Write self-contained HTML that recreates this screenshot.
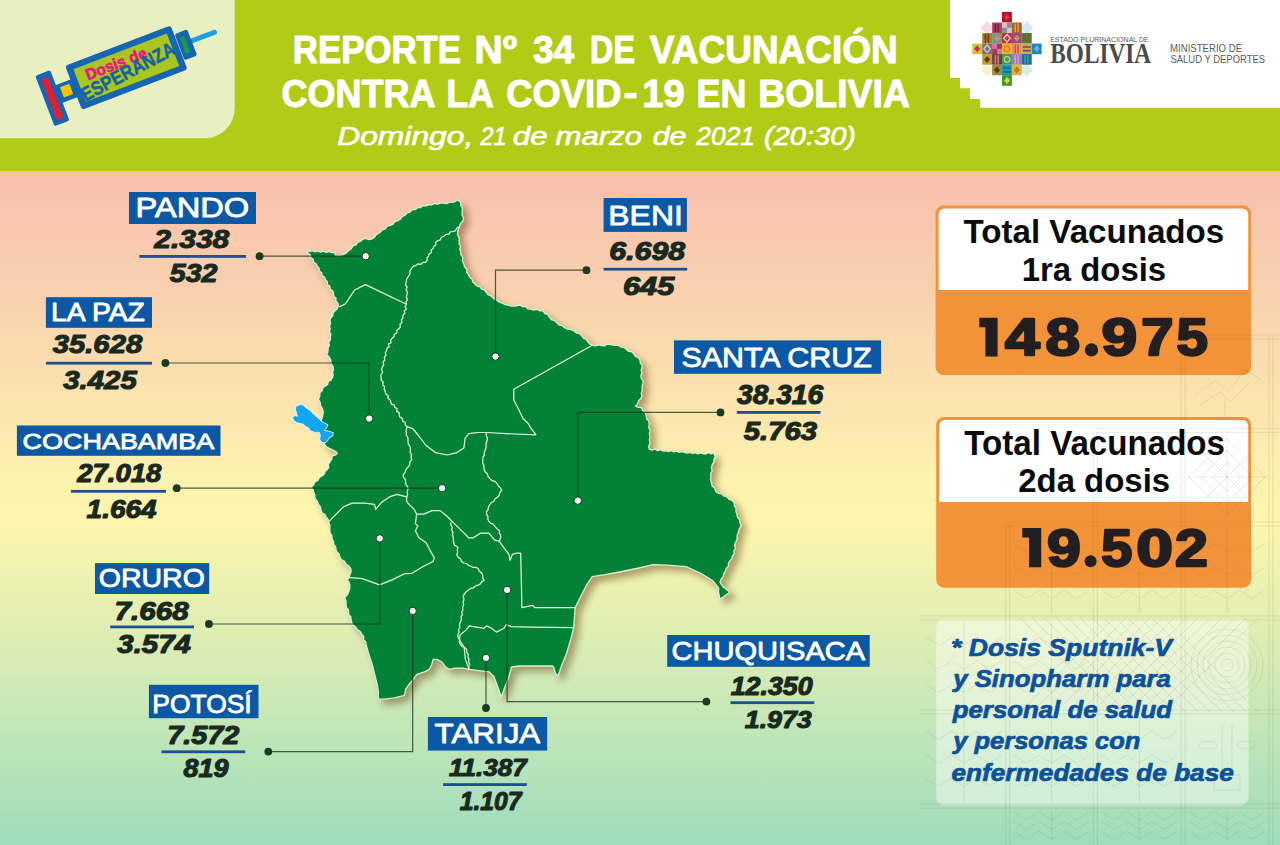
<!DOCTYPE html>
<html><head><meta charset="utf-8"><title>Reporte 34 Vacunacion Bolivia</title>
<style>html,body{margin:0;padding:0;width:1280px;height:845px;overflow:hidden}
body{background:linear-gradient(180deg,#f8bfae 0px,#f8bfae 171px,#f9d2af 299px,#fbe7ae 420px,#fdf1ae 474px,#fdf5ad 521px,#dcedb3 643px,#bde5b8 744px,#9edcbb 845px)}
svg{display:block}</style></head><body>
<svg width="1280" height="845" viewBox="0 0 1280 845">


<rect x="0" y="0" width="1280" height="171" fill="#b2cb17"/>
<path d="M0,0 H234.7 V108.3 A30,30 0 0 1 204.7,138.3 H0 Z" fill="#e8efc1"/>
<path d="M950,0 H1280 V107.8 H980 V99 H970 V88.2 H960 V78 H950 Z" fill="#ffffff"/>
<polygon points="987.1,20.9 993.9,27.7 987.1,34.5 980.4,27.7" fill="#f7d9e2"/>
<polygon points="1026.8,20.9 1033.5,27.7 1026.8,34.5 1020.0,27.7" fill="#d6eaf6"/>
<polygon points="987.1,63.1 993.9,69.9 987.1,76.7 980.4,69.9" fill="#f8f0d2"/>
<polygon points="1026.8,63.1 1033.5,69.9 1026.8,76.7 1020.0,69.9" fill="#d8eedf"/>
<rect x="1002.0" y="11.9" width="9.9" height="10.6" fill="#b3122e"/>
<polygon points="1007.0,13.7 1010.0,17.2 1007.0,20.7 1004.0,17.2" fill="#e0303a"/>
<rect x="992.1" y="22.5" width="9.9" height="10.6" fill="#b8406e"/>
<rect x="994.6" y="23.5" width="1.6" height="8.6" fill="#6a2030"/>
<rect x="997.5" y="23.5" width="1.6" height="8.6" fill="#6a2030"/>
<rect x="1002.0" y="22.5" width="9.9" height="10.6" fill="#9c8c92"/>
<rect x="1002.0" y="22.5" width="5.0" height="5.3" fill="#f0f0f0" fill-opacity="0.6"/>
<rect x="1007.0" y="27.7" width="5.0" height="5.3" fill="#f0f0f0" fill-opacity="0.6"/>
<rect x="1011.9" y="22.5" width="9.9" height="10.6" fill="#a2622c"/>
<rect x="1014.4" y="23.5" width="1.6" height="8.6" fill="#e09a40"/>
<rect x="1017.3" y="23.5" width="1.6" height="8.6" fill="#e09a40"/>
<rect x="982.2" y="33.0" width="9.9" height="10.6" fill="#b67a2a"/>
<rect x="984.7" y="34.0" width="1.6" height="8.6" fill="#5a3a20"/>
<rect x="987.6" y="34.0" width="1.6" height="8.6" fill="#5a3a20"/>
<rect x="992.1" y="33.0" width="9.9" height="10.6" fill="#6aa070"/>
<polygon points="997.0,34.8 1000.0,38.3 997.0,41.8 994.0,38.3" fill="#e080a0"/>
<rect x="1002.0" y="33.0" width="9.9" height="10.6" fill="#c0303a"/>
<polygon points="1007.0,34.5 1010.2,38.3 1007.0,42.1 1003.7,38.3" fill="none" stroke="#f4e0e0" stroke-width="1.2"/>
<rect x="1011.9" y="33.0" width="9.9" height="10.6" fill="#9a4a86"/>
<polygon points="1016.9,34.8 1019.9,38.3 1016.9,41.8 1013.9,38.3" fill="#e08a40"/>
<rect x="1021.8" y="33.0" width="9.9" height="10.6" fill="#4f7a38"/>
<rect x="1022.8" y="35.6" width="7.9" height="1.6" fill="#8a5a30"/>
<rect x="1022.8" y="39.3" width="7.9" height="1.6" fill="#8a5a30"/>
<rect x="972.3" y="43.6" width="9.9" height="10.6" fill="#d6c040"/>
<polygon points="977.2,45.3 980.2,48.8 977.2,52.3 974.2,48.8" fill="#d03040"/>
<rect x="982.2" y="43.6" width="9.9" height="10.6" fill="#7a7070"/>
<polygon points="987.1,45.0 990.4,48.8 987.1,52.6 983.9,48.8" fill="none" stroke="#d8d0c8" stroke-width="1.2"/>
<rect x="992.1" y="43.6" width="9.9" height="10.6" fill="#a43462"/>
<rect x="992.1" y="43.6" width="5.0" height="5.3" fill="#f0a0c0" fill-opacity="0.6"/>
<rect x="997.0" y="48.8" width="5.0" height="5.3" fill="#f0a0c0" fill-opacity="0.6"/>
<rect x="1002.0" y="43.6" width="9.9" height="10.6" fill="#f0b030"/>
<circle cx="1007.0" cy="48.8" r="2.8" fill="none" stroke="#e07a20" stroke-width="1.3"/>
<rect x="1011.9" y="43.6" width="9.9" height="10.6" fill="#e8906a"/>
<rect x="1014.4" y="44.6" width="1.6" height="8.6" fill="#c06040"/>
<rect x="1017.3" y="44.6" width="1.6" height="8.6" fill="#c06040"/>
<rect x="1021.8" y="43.6" width="9.9" height="10.6" fill="#c8b040"/>
<rect x="1022.8" y="46.2" width="7.9" height="1.6" fill="#7a4080"/>
<rect x="1022.8" y="49.9" width="7.9" height="1.6" fill="#7a4080"/>
<rect x="1031.7" y="43.6" width="9.9" height="10.6" fill="#2282c8"/>
<polygon points="1036.7,45.3 1039.7,48.8 1036.7,52.3 1033.7,48.8" fill="#60b0f0"/>
<rect x="982.2" y="54.1" width="9.9" height="10.6" fill="#c29a30"/>
<polygon points="987.1,55.9 990.1,59.4 987.1,62.9 984.1,59.4" fill="#5a3a20"/>
<rect x="992.1" y="54.1" width="9.9" height="10.6" fill="#6a4030"/>
<rect x="994.6" y="55.1" width="1.6" height="8.6" fill="#d08090"/>
<rect x="997.5" y="55.1" width="1.6" height="8.6" fill="#d08090"/>
<rect x="1002.0" y="54.1" width="9.9" height="10.6" fill="#2a9a7a"/>
<circle cx="1007.0" cy="59.4" r="2.8" fill="none" stroke="#e0d040" stroke-width="1.3"/>
<rect x="1011.9" y="54.1" width="9.9" height="10.6" fill="#9a7ab0"/>
<rect x="1014.4" y="55.1" width="1.6" height="8.6" fill="#d0a0d0"/>
<rect x="1017.3" y="55.1" width="1.6" height="8.6" fill="#d0a0d0"/>
<rect x="1021.8" y="54.1" width="9.9" height="10.6" fill="#1a6a9a"/>
<rect x="1024.3" y="55.1" width="1.6" height="8.6" fill="#30a0b0"/>
<rect x="1027.2" y="55.1" width="1.6" height="8.6" fill="#30a0b0"/>
<rect x="992.1" y="64.7" width="9.9" height="10.6" fill="#a08a40"/>
<polygon points="997.0,66.4 1000.0,69.9 997.0,73.4 994.0,69.9" fill="#5a3a20"/>
<rect x="1002.0" y="64.7" width="9.9" height="10.6" fill="#1a9ab0"/>
<rect x="1003.0" y="67.3" width="7.9" height="1.6" fill="#107080"/>
<rect x="1003.0" y="71.0" width="7.9" height="1.6" fill="#107080"/>
<rect x="1011.9" y="64.7" width="9.9" height="10.6" fill="#e0b040"/>
<polygon points="1016.9,66.4 1019.9,69.9 1016.9,73.4 1013.9,69.9" fill="#b08020"/>
<rect x="1002.0" y="75.2" width="9.9" height="10.6" fill="#3a9a30"/>
<polygon points="1007.0,77.0 1010.0,80.5 1007.0,84.0 1004.0,80.5" fill="#e0d040"/>
<g transform="translate(126.35 67.66) rotate(-21)">
<line x1="70" y1="-1.5" x2="95" y2="-1.5" stroke="#1c9fde" stroke-width="5" stroke-linecap="round"/>
<rect x="57" y="-14" width="13.5" height="28" rx="2" fill="#1664b4"/>
<rect x="60.5" y="-8.5" width="5" height="17" fill="#1b9a4a"/>
<rect x="-74" y="-9" width="19" height="19" fill="#1664b4"/>
<rect x="-69" y="-5.5" width="10" height="11" fill="#f7c600"/>
<rect x="-88" y="-25" width="16" height="54" rx="2" fill="#1664b4"/>
<rect x="-83.5" y="-19" width="7" height="43" fill="#e2202c"/>
<rect x="-56.5" y="-23.6" width="113" height="47.2" rx="3" fill="#1664b4"/>
<rect x="-50" y="-17.4" width="100" height="34.8" fill="#a9c520"/>
<text transform="translate(-40.5 -1.8) scale(0.97 1)" fill="#e6187e" style="font-family:&quot;Liberation Sans&quot;;font-weight:bold;font-size:16px" stroke="#e6187e" stroke-width="0.6">Dosis de</text>
<text transform="translate(-50.5 17) rotate(-6.9) scale(0.86 1)" fill="#17639f" style="font-family:&quot;Liberation Sans&quot;;font-weight:bold;font-size:19.5px" stroke="#17639f" stroke-width="0.5">ESPERANZA</text>
</g>
<g style="filter:drop-shadow(5px 5px 3.5px rgba(90,58,16,0.45))"><polygon points="306.9,250.8 309.6,251.5 312.5,250.6 315.2,251.9 318.0,250.9 320.7,252.2 323.6,251.1 326.3,252.3 329.1,251.4 331.8,252.6 334.6,252.3 335.4,255.4 339.3,255.6 343.1,254.6 346.1,253.1 348.5,250.8 351.1,249.0 352.7,246.1 355.9,244.9 357.7,242.3 360.5,241.5 362.6,239.3 365.4,238.5 368.4,239.5 371.5,239.2 374.4,237.4 376.2,234.6 379.6,232.8 382.3,230.0 385.2,229.0 387.1,226.3 390.0,225.4 392.8,224.3 394.8,221.7 397.7,220.8 400.3,219.3 402.0,216.6 404.9,215.4 406.9,213.1 409.8,212.2 412.0,209.8 415.2,209.5 417.7,207.7 420.6,207.5 422.9,205.5 426.0,205.9 428.5,204.6 431.6,204.9 434.6,203.5 437.7,204.2 440.7,202.9 443.8,203.1 447.0,203.5 450.0,202.0 453.1,202.3 457.7,200.0 460.8,202.3 460.8,205.5 462.4,208.3 462.3,211.5 462.0,214.7 463.4,217.7 463.1,220.8 460.6,223.5 459.2,226.9 457.7,231.5 457.5,234.7 459.2,237.6 459.2,240.8 459.0,243.6 460.6,246.1 459.7,248.9 460.8,251.5 460.9,254.7 462.8,257.5 462.3,260.9 463.8,263.8 464.5,266.7 466.7,269.0 466.7,272.2 468.5,274.6 469.6,277.2 472.0,278.9 472.7,281.8 474.6,283.8 477.0,285.9 480.0,286.9 481.6,289.1 484.4,289.9 486.0,292.1 488.3,294.7 491.4,296.2 493.8,298.6 496.9,300.2 499.3,302.2 502.3,303.0 504.9,304.6 508.0,305.0 511.4,306.1 515.0,306.0 520.0,305.0 522.5,306.6 525.7,306.4 527.8,308.8 530.8,309.2 533.8,310.2 537.0,309.4 540.0,310.9 543.1,310.8 544.7,313.3 547.6,314.4 549.2,316.9 551.3,319.5 554.8,320.5 556.9,323.1 559.2,325.1 562.3,325.7 564.6,327.7 567.5,329.3 570.9,329.3 573.8,330.8 576.1,332.8 579.2,333.4 581.5,335.4 583.2,337.8 586.0,339.1 587.7,341.5 589.6,343.9 592.3,345.2 595.4,345.8 598.5,344.9 601.5,345.5 604.7,345.8 607.6,344.2 610.8,344.6 614.6,345.4 618.5,345.2 620.8,347.1 623.9,347.3 626.2,349.2 628.4,351.3 631.6,351.7 633.8,353.8 635.4,356.4 638.3,357.6 640.0,360.0 640.2,362.7 642.0,365.0 642.2,367.7 641.1,370.1 642.1,373.0 640.9,375.4 641.2,378.1 642.9,380.4 643.1,383.1 642.1,386.9 642.2,390.8 641.3,393.3 641.9,396.0 640.9,398.5 638.6,400.7 637.7,403.9 635.4,406.2 638.3,407.4 641.5,407.7 642.6,410.6 645.1,412.5 646.2,415.4 646.6,418.7 648.9,421.3 649.2,424.6 648.8,427.7 650.3,430.7 649.3,433.9 650.2,436.9 649.3,439.9 650.2,443.1 648.7,446.1 649.2,449.2 652.0,450.1 654.9,449.0 657.6,450.7 660.6,449.7 663.3,451.1 666.2,450.8 668.8,451.5 671.5,450.6 674.0,451.9 676.8,451.2 679.3,452.4 682.0,451.6 684.6,452.3 687.2,453.1 689.9,452.3 692.5,453.4 695.2,452.7 697.8,453.9 700.5,453.0 703.1,453.8 705.8,454.0 708.4,452.6 711.2,453.8 713.8,452.9 715.4,456.9 713.9,459.3 713.8,462.2 712.3,464.6 711.4,467.6 712.1,470.8 710.7,473.8 710.8,476.9 710.5,479.9 711.5,482.8 712.2,486.0 714.8,488.3 715.7,491.4 718.3,493.3 721.6,493.8 724.0,496.0 727.1,497.0 729.1,499.3 732.2,500.4 734.2,502.7 734.2,505.7 736.1,508.3 735.9,511.4 737.0,514.1 737.4,517.2 739.7,519.5 739.8,522.8 741.3,525.4 739.3,528.7 738.4,532.5 737.0,535.7 737.1,539.3 735.6,542.5 734.5,545.2 735.6,548.2 733.9,550.9 734.2,553.8 732.3,555.9 731.8,558.8 729.9,560.9 728.4,563.2 728.4,566.2 726.2,568.2 725.7,570.9 723.7,573.4 723.3,576.8 721.0,579.1 720.0,582.2 722.8,586.5 729.9,592.2 720.0,599.3 718.6,592.2 718.6,587.9 712.9,580.8 701.5,573.7 685.9,566.6 667.4,565.2 653.2,564.6 639.0,568.0 622.0,571.5 605.0,574.6 592.2,576.6 586.5,585.1 580.8,596.4 575.1,607.8 573.7,627.7 570.9,639.0 566.6,653.2 560.9,667.4 558.1,676.0 555.3,673.1 553.8,667.4 552.4,666.0 535.4,666.0 519.8,666.0 511.5,667.0 508.5,678.0 504.5,688.0 501.4,697.0 497.7,686.7 494.0,676.8 489.0,671.8 479.0,670.6 469.1,669.3 462.9,668.1 455.4,668.1 449.2,669.3 445.5,666.9 441.8,661.9 436.8,659.4 433.1,659.4 431.8,664.4 429.3,669.3 424.4,671.8 416.9,674.3 413.2,679.3 408.2,685.5 405.7,689.2 404.5,695.4 394.6,697.9 384.6,699.2 378.4,699.2 378.4,691.7 377.2,684.3 374.7,674.3 372.2,664.4 369.7,656.9 366.0,644.5 365.7,641.8 363.4,639.8 363.8,636.8 362.2,634.6 360.2,631.6 357.3,629.6 355.3,626.6 352.3,624.6 351.1,619.6 350.9,616.9 348.9,614.8 348.6,612.2 348.3,609.5 346.4,607.4 346.1,604.7 346.0,600.9 344.9,597.3 347.1,595.1 348.6,592.3 349.7,588.7 349.8,584.9 349.0,582.2 347.3,579.9 349.1,577.7 349.8,574.9 351.1,572.1 350.9,569.0 348.8,566.1 345.9,564.0 344.4,561.1 341.2,559.5 339.7,556.6 339.1,553.8 336.7,551.8 336.0,549.1 335.5,546.4 333.6,544.3 333.6,541.5 332.2,539.2 331.9,535.7 330.0,532.7 329.8,529.2 329.9,525.4 328.5,521.8 327.9,519.0 326.0,516.8 324.8,514.4 322.2,513.1 321.1,510.6 320.5,507.2 318.6,504.4 317.2,501.1 314.9,498.2 314.9,494.9 313.6,491.9 313.0,489.1 311.1,487.0 313.5,484.9 314.9,482.0 317.8,480.5 319.5,477.4 322.3,475.8 324.4,474.0 325.1,471.2 327.3,469.6 328.7,467.3 328.3,464.4 329.8,462.1 331.7,459.3 332.2,455.9 335.0,455.2 337.2,453.4 336.1,451.8 331.9,449.7 327.6,447.6 324.8,444.7 323.4,441.2 323.6,438.3 322.0,435.7 323.0,432.7 322.0,430.0 322.2,426.8 321.0,423.8 321.2,420.6 322.6,416.3 323.4,412.0 322.4,408.6 320.5,405.7 320.1,402.3 318.4,399.3 319.8,396.2 319.9,392.8 322.1,390.8 323.0,387.8 325.4,386.0 327.7,384.4 328.3,381.5 330.9,380.2 332.2,377.8 333.2,375.2 332.6,372.3 333.5,369.6 333.0,366.3 331.0,363.5 330.8,360.1 329.3,357.0 326.7,354.7 328.0,351.4 328.1,347.9 329.4,345.3 328.6,342.3 330.4,339.9 330.3,337.0 330.8,334.2 329.4,331.6 330.2,328.8 329.5,326.1 330.5,323.5 329.9,320.6 330.8,317.9 332.7,316.0 333.1,313.1 334.9,311.1 337.1,308.7 338.4,305.7 337.9,303.1 335.8,301.0 336.0,298.1 333.9,296.1 333.5,293.4 332.7,290.8 330.2,289.2 329.9,286.3 327.5,284.7 327.3,281.8 325.4,279.8 324.6,277.2 322.1,275.6 321.7,272.8 319.4,271.0 319.0,268.2 317.2,266.2 316.1,263.7 313.7,262.2 313.2,259.3 310.8,257.7 310.4,254.8 307.9,253.3" fill="#038237" stroke="#d9f2cf" stroke-width="1.3" stroke-linejoin="round"/></g>
<g fill="none" stroke="#e8f7e0" stroke-width="1.2" stroke-linejoin="round">
<polyline points="339.2,306.9 345.4,303.8 354.6,290.0 365.4,284.6 405.4,303.8 406.6,304.3"/>
<polyline points="459.2,226.9 456.8,228.0 455.6,230.6 453.1,231.5 450.4,231.9 448.7,234.4 445.8,234.4 443.8,236.2 441.3,237.2 440.2,239.9 437.7,240.8 435.8,242.3 435.9,244.9 433.8,246.3 433.1,248.5 431.2,250.0 431.4,252.7 429.0,253.9 428.5,256.2 427.0,258.0 427.1,260.6 425.4,262.3 422.8,262.3 421.0,264.4 418.2,263.8 416.2,265.4 413.4,266.2 411.5,268.5 410.0,270.9 410.0,273.8 408.5,276.2 406.7,279.0 406.2,282.3 405.5,284.8 407.2,287.2 406.0,289.7 407.5,292.1 406.9,294.6 406.3,297.0 407.4,299.5 406.0,301.9 406.6,304.3"/>
<polyline points="406.6,304.3 405.1,306.3 406.3,309.1 404.3,311.0 404.8,313.5 402.8,315.4 403.0,317.9 401.4,319.8 402.1,322.5 399.9,324.2 400.4,326.9 398.9,328.8 396.9,330.3 396.8,333.0 394.3,334.2 394.0,336.8 392.1,338.3 390.6,340.1 391.0,342.7 388.5,344.1 389.2,346.9 386.8,348.2 386.6,350.6 385.3,352.8 386.0,355.4 384.3,357.5 384.8,360.0 383.0,362.1 383.7,364.7 382.5,366.9 381.5,369.5 382.7,372.5 380.8,375.0 381.2,377.8 381.2,380.3 383.2,382.2 382.7,384.8 384.6,386.7 384.1,389.3 385.3,391.4 385.7,393.9 388.3,395.4 387.8,398.3 390.2,399.9 390.7,402.3 392.0,404.3 394.4,405.0 394.6,407.3 397.1,408.6 396.6,411.3 399.1,412.6 399.3,414.9 399.9,417.3 402.5,418.4 402.5,421.2 405.2,422.2 405.3,425.0 407.1,426.6"/>
<polyline points="407.1,426.6 413.0,428.9 418.9,436.0 426.0,445.5 435.5,452.6 447.3,455.0 456.8,452.6 463.9,447.9 465.1,438.4 468.6,433.7 478.1,432.5 486.4,432.5 506.5,433.7 536.1,434.9"/>
<polyline points="592.3,345.2 513.8,389.2 513.8,400.0 518.5,409.2 523.1,418.5 527.8,423.0 531.4,428.9 536.1,434.9"/>
<polyline points="407.1,426.6 406.2,429.4 406.3,432.3 406.3,435.3 408.0,438.0 408.0,441.0 408.3,444.1 410.2,446.7 410.5,449.7 410.2,452.3 411.5,454.6 411.0,457.2 411.8,459.6 410.0,461.8 409.7,464.8 408.0,467.1 405.9,469.3 405.1,472.3 403.1,474.6 403.5,477.2 405.2,479.4 405.6,482.0 405.9,484.6 407.7,486.8 408.0,489.5 407.2,491.9 407.6,494.5 406.8,496.9 406.5,499.6 407.1,502.3"/>
<polyline points="406.8,496.9 396.9,494.4 389.4,496.9 382.0,501.9 375.7,509.3 374.5,504.4 364.6,503.1 352.1,503.1 343.4,506.9 334.7,515.6 328.5,521.8"/>
<polyline points="486.4,432.5 486.2,435.3 487.3,438.0 487.1,440.8 486.0,443.8 486.2,447.1 485.2,450.2 484.1,452.5 484.4,455.1 483.0,457.2 482.8,459.7 482.7,462.9 484.0,466.0 484.0,469.2 485.1,471.8 487.3,473.7 488.1,476.5 489.9,478.6 492.0,480.6 494.9,481.3 497.0,483.4 498.3,486.0 500.5,487.9 501.8,490.5 499.8,492.6 499.1,495.6 497.0,497.6 494.9,499.0 493.8,501.5 491.3,502.5 489.9,504.7 488.4,506.9 488.1,509.7 486.4,511.8 486.6,514.3 488.0,516.4 487.8,518.9 488.8,521.2 490.5,523.1 493.1,524.0 494.7,526.0 496.8,528.6 499.4,530.7 499.3,533.1 500.7,535.3 500.6,537.8 499.4,541.4"/>
<polyline points="499.4,541.4 501.8,544.9 505.3,549.6 508.9,554.4 510.1,560.3 512.4,554.4 516.0,553.2 520.7,553.2 521.2,575.7 521.9,607.6 532.5,605.3 534.9,607.6 575.1,607.6"/>
<polyline points="407.1,502.3 414.2,509.4 416.6,514.1 423.7,514.1 432.0,510.6 440.2,510.6 447.3,516.5 454.4,523.6 461.5,530.7 466.3,535.4 468.6,537.8 473.4,537.8 480.5,533.1 488.8,533.1 494.7,540.2 499.4,541.4"/>
<polyline points="416.6,514.1 415.4,523.6 417.8,526.0 415.4,530.7 418.9,537.8 426.0,542.5 429.6,549.6 434.3,557.9 433.1,561.5 423.7,566.2 411.8,573.3 404.5,573.7 392.1,579.9 379.6,584.9 362.2,578.6 347.3,577.4"/>
<polyline points="450.9,522.0 450.8,524.7 452.2,527.2 451.5,530.0 453.0,532.5 452.4,535.2 453.3,537.8 453.4,541.4 454.4,544.9 458.0,547.3 457.2,549.6 457.7,552.1 456.8,554.4 457.9,557.0 460.4,558.8 461.5,561.5 463.7,563.0 466.4,563.5 468.5,565.4 471.0,566.2 473.2,567.5 475.9,567.3 478.1,568.6 479.4,571.2 481.7,573.0 482.8,575.7 482.8,578.2 484.0,580.4 481.7,581.6 480.4,583.9 478.1,585.1 475.5,585.9 473.5,587.8 470.8,588.3 468.6,589.9 466.0,592.0 463.9,594.6 463.3,597.1 464.0,599.7 463.0,602.1 463.7,604.7 462.6,607.2 462.9,609.7 461.8,612.1 462.4,614.8 460.9,617.0 461.4,619.7 460.4,622.1 459.4,624.5 459.9,627.2 458.5,629.5 459.0,632.2 457.9,634.6 457.9,637.2 459.7,639.4 459.3,642.2 460.4,644.5 462.2,646.5 464.8,647.5 466.6,649.5 466.8,652.1 468.2,654.4 467.9,657.1 469.1,659.4 468.6,661.9 469.7,664.3 468.6,666.8 469.1,669.3"/>
<polyline points="469.1,669.3 465.4,659.4 464.1,647.0 459.2,639.5 460.4,634.6 466.6,629.6 469.1,625.9 476.6,627.1 484.0,628.3 486.5,625.9 491.5,628.3 496.4,632.1 503.9,628.3 506.4,624.6 511.4,626.6 530.0,627.1 573.7,627.7"/>
</g>
<polygon points="295.9,406.2 300.4,404.6 303.5,405.0 305.8,407.7 309.7,410.0 312.7,413.2 315.0,415.5 318.1,417.8 321.1,421.0 325.0,423.3 328.0,424.9 326.5,428.1 324.3,430.4 328.8,431.1 333.4,432.7 332.7,435.9 328.8,438.2 327.3,441.3 325.0,442.9 321.1,442.1 319.6,439.0 320.4,435.1 318.9,431.9 316.6,432.7 313.5,431.9 309.7,430.4 308.8,428.1 305.8,426.5 302.8,424.1 299.6,423.3 296.6,422.6 293.5,420.3 292.7,417.1 295.1,415.5 297.4,416.3 296.6,413.2 295.4,410.0" fill="#12a6ef" stroke="#e6f6ff" stroke-width="0.9" stroke-linejoin="round"/>
<g fill="none" stroke="#1a331c" stroke-opacity="0.78" stroke-width="1.2">
<polyline points="259.6,256.2 365.7,256.2"/>
<polyline points="165.4,363 369.2,363 369.2,418.6"/>
<polyline points="176.7,488.2 442.1,488.2"/>
<polyline points="208.9,624 379.8,624 379.8,538.4"/>
<polyline points="268.3,751.6 412.7,751.6 412.7,610.9"/>
<polyline points="586.5,270.2 495.5,270.2 495.5,356.6"/>
<polyline points="720.5,412.4 577.8,412.4 577.8,500.6"/>
<polyline points="706.4,701.6 507.1,701.6 507.1,589.9"/>
<polyline points="486,708 486,657.9"/>
</g>
<circle cx="259.6" cy="256.2" r="3.9" fill="#1b3a22"/>
<circle cx="365.7" cy="256.2" r="3.7" fill="#ffffff" stroke="#0e3a1a" stroke-width="1.0"/>
<circle cx="165.4" cy="363" r="3.9" fill="#1b3a22"/>
<circle cx="369.2" cy="418.6" r="3.7" fill="#ffffff" stroke="#0e3a1a" stroke-width="1.0"/>
<circle cx="176.7" cy="488.2" r="3.9" fill="#1b3a22"/>
<circle cx="442.1" cy="488.2" r="3.7" fill="#ffffff" stroke="#0e3a1a" stroke-width="1.0"/>
<circle cx="208.9" cy="624" r="3.9" fill="#1b3a22"/>
<circle cx="379.8" cy="538.4" r="3.7" fill="#ffffff" stroke="#0e3a1a" stroke-width="1.0"/>
<circle cx="268.3" cy="751.6" r="3.9" fill="#1b3a22"/>
<circle cx="412.7" cy="610.9" r="3.7" fill="#ffffff" stroke="#0e3a1a" stroke-width="1.0"/>
<circle cx="586.5" cy="270.2" r="3.9" fill="#1b3a22"/>
<circle cx="495.5" cy="356.6" r="3.7" fill="#ffffff" stroke="#0e3a1a" stroke-width="1.0"/>
<circle cx="720.5" cy="412.4" r="3.9" fill="#1b3a22"/>
<circle cx="577.8" cy="500.6" r="3.7" fill="#ffffff" stroke="#0e3a1a" stroke-width="1.0"/>
<circle cx="706.4" cy="701.6" r="3.9" fill="#1b3a22"/>
<circle cx="507.1" cy="589.9" r="3.7" fill="#ffffff" stroke="#0e3a1a" stroke-width="1.0"/>
<circle cx="486" cy="708" r="3.9" fill="#1b3a22"/>
<circle cx="486" cy="657.9" r="3.7" fill="#ffffff" stroke="#0e3a1a" stroke-width="1.0"/>
<rect x="129" y="192" width="127.0" height="32.0" fill="#0b59a5"/>
<rect x="139.3" y="255.0" width="106.7" height="2.8" fill="#1a4f91"/>
<rect x="45.9" y="297.2" width="106.1" height="30.6" fill="#0b59a5"/>
<rect x="45.9" y="361.8" width="106.1" height="2.8" fill="#1a4f91"/>
<rect x="16.9" y="425.5" width="203.6" height="30.3" fill="#0b59a5"/>
<rect x="71" y="489.9" width="95.0" height="2.8" fill="#1a4f91"/>
<rect x="95" y="563.1" width="114.2" height="30.9" fill="#0b59a5"/>
<rect x="110.2" y="625.5" width="83.8" height="2.8" fill="#1a4f91"/>
<rect x="148.9" y="684.8" width="109.6" height="33.4" fill="#0b59a5"/>
<rect x="161.5" y="750.4" width="83.7" height="2.8" fill="#1a4f91"/>
<rect x="603.6" y="198" width="83.3" height="33.9" fill="#0b59a5"/>
<rect x="603.6" y="267.8" width="83.6" height="2.8" fill="#1a4f91"/>
<rect x="674" y="340.4" width="207.1" height="33.4" fill="#0b59a5"/>
<rect x="736.8" y="411.0" width="83.7" height="2.8" fill="#1a4f91"/>
<rect x="667.2" y="635" width="202.5" height="31.8" fill="#0b59a5"/>
<rect x="730.5" y="701.3" width="83.8" height="2.8" fill="#1a4f91"/>
<rect x="427.9" y="717" width="119.3" height="33.6" fill="#0b59a5"/>
<rect x="443.1" y="783.2" width="83.7" height="2.8" fill="#1a4f91"/>
<rect x="935.6" y="205.6" width="315.6" height="169.4" rx="8" fill="#f39339"/>
<path d="M938.6,290 V214.6 A6,6 0 0 1 944.6,208.6 H1242.2 A6,6 0 0 1 1248.2,214.6 V290 Z" fill="#ffffff"/>
<rect x="936.2" y="417" width="315.0" height="170.7" rx="8" fill="#f39339"/>
<path d="M939.2,502 V426 A6,6 0 0 1 945.2,420 H1242.2 A6,6 0 0 1 1248.2,426 V502 Z" fill="#ffffff"/>
<rect x="936.2" y="619.3" width="312.3" height="185.9" rx="8" fill="#ffffff" fill-opacity="0.45"/>
<g fill="none" stroke="#5a4a2a" stroke-opacity="0.11" stroke-width="1">
<line x1="1005.7" y1="524" x2="1005.7" y2="845"/>
<line x1="1009.7" y1="524" x2="1009.7" y2="845"/>
<line x1="1093.4" y1="430.5" x2="1093.4" y2="845"/>
<line x1="1097.4" y1="430.5" x2="1097.4" y2="845"/>
<line x1="1181.2" y1="337" x2="1181.2" y2="845"/>
<line x1="1185.2" y1="337" x2="1185.2" y2="845"/>
<line x1="1268.9" y1="337" x2="1268.9" y2="845"/>
<line x1="1272.9" y1="337" x2="1272.9" y2="845"/>
<line x1="1183.2" y1="335" x2="1280" y2="335"/>
<line x1="1183.2" y1="339" x2="1280" y2="339"/>
<line x1="1095.4" y1="428.5" x2="1280" y2="428.5"/>
<line x1="1095.4" y1="432.5" x2="1280" y2="432.5"/>
<line x1="1007.7" y1="522" x2="1280" y2="522"/>
<line x1="1007.7" y1="526" x2="1280" y2="526"/>
<line x1="920" y1="616" x2="1280" y2="616"/>
<line x1="920" y1="620" x2="1280" y2="620"/>
<line x1="920" y1="710" x2="1280" y2="710"/>
<line x1="920" y1="714" x2="1280" y2="714"/>
<line x1="920" y1="804" x2="1280" y2="804"/>
<line x1="920" y1="808" x2="1280" y2="808"/>
<circle cx="1227" cy="665" r="6"/>
<circle cx="1227" cy="665" r="12"/>
<circle cx="1227" cy="665" r="18"/>
<circle cx="1227" cy="665" r="24"/>
<circle cx="1227" cy="665" r="30"/>
<circle cx="1227" cy="665" r="36"/>
<ellipse cx="1208" cy="745" rx="9" ry="4"/><ellipse cx="1246" cy="745" rx="9" ry="4"/>
<path d="M1222,725 V770 H1232 V725 M1214,775 H1240 V790 H1214 Z"/>
<line x1="1020" y1="618" x2="1114" y2="712"/>
<line x1="1114" y1="618" x2="1020" y2="712"/>
<line x1="1032" y1="618" x2="1126" y2="712"/>
<line x1="1126" y1="618" x2="1032" y2="712"/>
<line x1="1044" y1="618" x2="1138" y2="712"/>
<line x1="1138" y1="618" x2="1044" y2="712"/>
<line x1="1056" y1="618" x2="1150" y2="712"/>
<line x1="1150" y1="618" x2="1056" y2="712"/>
<line x1="1068" y1="618" x2="1162" y2="712"/>
<line x1="1162" y1="618" x2="1068" y2="712"/>
<line x1="1080" y1="618" x2="1174" y2="712"/>
<line x1="1174" y1="618" x2="1080" y2="712"/>
<line x1="1092" y1="618" x2="1186" y2="712"/>
<line x1="1186" y1="618" x2="1092" y2="712"/>
<line x1="1104" y1="618" x2="1198" y2="712"/>
<line x1="1198" y1="618" x2="1104" y2="712"/>
<line x1="1116" y1="618" x2="1210" y2="712"/>
<line x1="1210" y1="618" x2="1116" y2="712"/>
<line x1="1128" y1="618" x2="1222" y2="712"/>
<line x1="1222" y1="618" x2="1128" y2="712"/>
<line x1="1140" y1="618" x2="1234" y2="712"/>
<line x1="1234" y1="618" x2="1140" y2="712"/>
<line x1="1152" y1="618" x2="1246" y2="712"/>
<line x1="1246" y1="618" x2="1152" y2="712"/>
<line x1="1164" y1="618" x2="1258" y2="712"/>
<line x1="1258" y1="618" x2="1164" y2="712"/>
<line x1="1227" y1="477" x2="1267.0" y2="477.0"/>
<line x1="1227" y1="477" x2="1255.3" y2="505.3"/>
<line x1="1227" y1="477" x2="1227.0" y2="517.0"/>
<line x1="1227" y1="477" x2="1198.7" y2="505.3"/>
<line x1="1227" y1="477" x2="1187.0" y2="477.0"/>
<line x1="1227" y1="477" x2="1198.7" y2="448.7"/>
<line x1="1227" y1="477" x2="1227.0" y2="437.0"/>
<line x1="1227" y1="477" x2="1255.3" y2="448.7"/>
<polygon points="1227,463 1241,477 1227,491 1213,477"/>
<polygon points="1227,451 1253,477 1227,503 1201,477"/>
<polygon points="1227,439 1265,477 1227,515 1189,477"/>
<path d="M1195,395 L1215,380 L1228,392 L1245,370 L1262,380 M1200,405 L1220,392 L1230,402 L1250,382 M1225,400 V418 M1218,418 H1234"/>
<polyline points="1013.7,543.5 1026.3,551.5 1038.9,543.5 1051.6,551.5 1064.2,543.5 1076.8,551.5 1089.4,543.5"/>
<polyline points="1013.7,567.0 1026.3,575.0 1038.9,567.0 1051.6,575.0 1064.2,567.0 1076.8,575.0 1089.4,567.0"/>
<polyline points="1013.7,590.5 1026.3,598.5 1038.9,590.5 1051.6,598.5 1064.2,590.5 1076.8,598.5 1089.4,590.5"/>
<line x1="1051.5500000000002" y1="528" x2="1051.5500000000002" y2="614"/>
<polyline points="926.0,637.5 938.6,645.5 951.2,637.5 963.9,645.5 976.5,637.5 989.1,645.5 1001.7,637.5"/>
<polyline points="926.0,661.0 938.6,669.0 951.2,661.0 963.9,669.0 976.5,661.0 989.1,669.0 1001.7,661.0"/>
<polyline points="926.0,684.5 938.6,692.5 951.2,684.5 963.9,692.5 976.5,684.5 989.1,692.5 1001.7,684.5"/>
<line x1="963.85" y1="622" x2="963.85" y2="708"/>
<polyline points="1013.7,637.5 1026.3,645.5 1038.9,637.5 1051.6,645.5 1064.2,637.5 1076.8,645.5 1089.4,637.5"/>
<polyline points="1013.7,661.0 1026.3,669.0 1038.9,661.0 1051.6,669.0 1064.2,661.0 1076.8,669.0 1089.4,661.0"/>
<polyline points="1013.7,684.5 1026.3,692.5 1038.9,684.5 1051.6,692.5 1064.2,684.5 1076.8,692.5 1089.4,684.5"/>
<line x1="1051.5500000000002" y1="622" x2="1051.5500000000002" y2="708"/>
<polyline points="926.0,731.5 938.6,739.5 951.2,731.5 963.9,739.5 976.5,731.5 989.1,739.5 1001.7,731.5"/>
<polyline points="926.0,755.0 938.6,763.0 951.2,755.0 963.9,763.0 976.5,755.0 989.1,763.0 1001.7,755.0"/>
<polyline points="926.0,778.5 938.6,786.5 951.2,778.5 963.9,786.5 976.5,778.5 989.1,786.5 1001.7,778.5"/>
<line x1="963.85" y1="716" x2="963.85" y2="802"/>
<polyline points="1013.7,731.5 1026.3,739.5 1038.9,731.5 1051.6,739.5 1064.2,731.5 1076.8,739.5 1089.4,731.5"/>
<polyline points="1013.7,755.0 1026.3,763.0 1038.9,755.0 1051.6,763.0 1064.2,755.0 1076.8,763.0 1089.4,755.0"/>
<polyline points="1013.7,778.5 1026.3,786.5 1038.9,778.5 1051.6,786.5 1064.2,778.5 1076.8,786.5 1089.4,778.5"/>
<line x1="1051.5500000000002" y1="716" x2="1051.5500000000002" y2="802"/>
<polyline points="1101.4,731.5 1114.0,739.5 1126.7,731.5 1139.3,739.5 1151.9,731.5 1164.6,739.5 1177.2,731.5"/>
<polyline points="1101.4,755.0 1114.0,763.0 1126.7,755.0 1139.3,763.0 1151.9,755.0 1164.6,763.0 1177.2,755.0"/>
<polyline points="1101.4,778.5 1114.0,786.5 1126.7,778.5 1139.3,786.5 1151.9,778.5 1164.6,786.5 1177.2,778.5"/>
<line x1="1139.3000000000002" y1="716" x2="1139.3000000000002" y2="802"/>
<polyline points="1101.4,543.5 1114.0,551.5 1126.7,543.5 1139.3,551.5 1151.9,543.5 1164.6,551.5 1177.2,543.5"/>
<polyline points="1101.4,567.0 1114.0,575.0 1126.7,567.0 1139.3,575.0 1151.9,567.0 1164.6,575.0 1177.2,567.0"/>
<polyline points="1101.4,590.5 1114.0,598.5 1126.7,590.5 1139.3,598.5 1151.9,590.5 1164.6,598.5 1177.2,590.5"/>
<line x1="1139.3000000000002" y1="528" x2="1139.3000000000002" y2="614"/>
<polyline points="1189.2,543.5 1201.8,551.5 1214.4,543.5 1227.1,551.5 1239.7,543.5 1252.3,551.5 1264.9,543.5"/>
<polyline points="1189.2,567.0 1201.8,575.0 1214.4,567.0 1227.1,575.0 1239.7,567.0 1252.3,575.0 1264.9,567.0"/>
<polyline points="1189.2,590.5 1201.8,598.5 1214.4,590.5 1227.1,598.5 1239.7,590.5 1252.3,598.5 1264.9,590.5"/>
<line x1="1227.0500000000002" y1="528" x2="1227.0500000000002" y2="614"/>
<polyline points="1101.4,811.8 1114.0,819.8 1126.7,811.8 1139.3,819.8 1151.9,811.8 1164.6,819.8 1177.2,811.8"/>
<polyline points="1101.4,821.5 1114.0,829.5 1126.7,821.5 1139.3,829.5 1151.9,821.5 1164.6,829.5 1177.2,821.5"/>
<polyline points="1101.4,831.2 1114.0,839.2 1126.7,831.2 1139.3,839.2 1151.9,831.2 1164.6,839.2 1177.2,831.2"/>
<line x1="1139.3000000000002" y1="810" x2="1139.3000000000002" y2="841"/>
<polyline points="1189.2,811.8 1201.8,819.8 1214.4,811.8 1227.1,819.8 1239.7,811.8 1252.3,819.8 1264.9,811.8"/>
<polyline points="1189.2,821.5 1201.8,829.5 1214.4,821.5 1227.1,829.5 1239.7,821.5 1252.3,829.5 1264.9,821.5"/>
<polyline points="1189.2,831.2 1201.8,839.2 1214.4,831.2 1227.1,839.2 1239.7,831.2 1252.3,839.2 1264.9,831.2"/>
<line x1="1227.0500000000002" y1="810" x2="1227.0500000000002" y2="841"/>
<polyline points="1013.7,811.8 1026.3,819.8 1038.9,811.8 1051.6,819.8 1064.2,811.8 1076.8,819.8 1089.4,811.8"/>
<polyline points="1013.7,821.5 1026.3,829.5 1038.9,821.5 1051.6,829.5 1064.2,821.5 1076.8,829.5 1089.4,821.5"/>
<polyline points="1013.7,831.2 1026.3,839.2 1038.9,831.2 1051.6,839.2 1064.2,831.2 1076.8,839.2 1089.4,831.2"/>
<line x1="1051.5500000000002" y1="810" x2="1051.5500000000002" y2="841"/>
</g>
<text transform="translate(292.82 63.30) scale(0.8901 1)" fill="#ffffff" stroke="#ffffff" stroke-width="1.0" stroke-linejoin="round" style="font-family:&quot;Liberation Sans&quot;;font-size:39.11px;font-weight:bold;font-style:normal">REPORTE</text>
<text transform="translate(474.45 63.30) scale(1.0036 1)" fill="#ffffff" stroke="#ffffff" stroke-width="1.0" stroke-linejoin="round" style="font-family:&quot;Liberation Sans&quot;;font-size:39.11px;font-weight:bold;font-style:normal">Nº</text>
<text transform="translate(532.92 63.30) scale(0.9504 1)" fill="#ffffff" stroke="#ffffff" stroke-width="1.0" stroke-linejoin="round" style="font-family:&quot;Liberation Sans&quot;;font-size:39.11px;font-weight:bold;font-style:normal">34</text>
<text transform="translate(590.08 63.30) scale(0.8259 1)" fill="#ffffff" stroke="#ffffff" stroke-width="1.0" stroke-linejoin="round" style="font-family:&quot;Liberation Sans&quot;;font-size:39.11px;font-weight:bold;font-style:normal">DE</text>
<text transform="translate(649.80 63.30) scale(0.9464 1)" fill="#ffffff" stroke="#ffffff" stroke-width="1.0" stroke-linejoin="round" style="font-family:&quot;Liberation Sans&quot;;font-size:39.11px;font-weight:bold;font-style:normal">VACUNACIÓN</text>
<text transform="translate(281.57 107.30) scale(0.9080 1)" fill="#ffffff" stroke="#ffffff" stroke-width="1.0" stroke-linejoin="round" style="font-family:&quot;Liberation Sans&quot;;font-size:39.68px;font-weight:bold;font-style:normal">CONTRA</text>
<text transform="translate(446.58 107.30) scale(0.8941 1)" fill="#ffffff" stroke="#ffffff" stroke-width="1.0" stroke-linejoin="round" style="font-family:&quot;Liberation Sans&quot;;font-size:39.68px;font-weight:bold;font-style:normal">LA</text>
<text transform="translate(506.36 107.30) scale(0.9159 1)" fill="#ffffff" stroke="#ffffff" stroke-width="1.0" stroke-linejoin="round" style="font-family:&quot;Liberation Sans&quot;;font-size:39.68px;font-weight:bold;font-style:normal">COVID</text>
<text transform="translate(642.30 107.30) scale(0.9664 1)" fill="#ffffff" stroke="#ffffff" stroke-width="1.0" stroke-linejoin="round" style="font-family:&quot;Liberation Sans&quot;;font-size:39.68px;font-weight:bold;font-style:normal">19</text>
<text transform="translate(696.55 107.30) scale(0.9075 1)" fill="#ffffff" stroke="#ffffff" stroke-width="1.0" stroke-linejoin="round" style="font-family:&quot;Liberation Sans&quot;;font-size:39.68px;font-weight:bold;font-style:normal">EN</text>
<text transform="translate(758.26 107.30) scale(0.9423 1)" fill="#ffffff" stroke="#ffffff" stroke-width="1.0" stroke-linejoin="round" style="font-family:&quot;Liberation Sans&quot;;font-size:39.68px;font-weight:bold;font-style:normal">BOLIVIA</text>
<text transform="translate(337.20 145.20) scale(1.2498 1)" fill="#ffffff" stroke="#ffffff" stroke-width="0.6" stroke-linejoin="round" style="font-family:&quot;Liberation Sans&quot;;font-size:25.46px;font-weight:normal;font-style:italic">Domingo,</text>
<text transform="translate(480.47 145.20) scale(0.9186 1)" fill="#ffffff" stroke="#ffffff" stroke-width="0.6" stroke-linejoin="round" style="font-family:&quot;Liberation Sans&quot;;font-size:25.46px;font-weight:normal;font-style:italic">21</text>
<text transform="translate(512.82 145.20) scale(1.2348 1)" fill="#ffffff" stroke="#ffffff" stroke-width="0.6" stroke-linejoin="round" style="font-family:&quot;Liberation Sans&quot;;font-size:25.46px;font-weight:normal;font-style:italic">de</text>
<text transform="translate(555.51 145.20) scale(1.2253 1)" fill="#ffffff" stroke="#ffffff" stroke-width="0.6" stroke-linejoin="round" style="font-family:&quot;Liberation Sans&quot;;font-size:25.46px;font-weight:normal;font-style:italic">marzo</text>
<text transform="translate(652.65 145.20) scale(1.1939 1)" fill="#ffffff" stroke="#ffffff" stroke-width="0.6" stroke-linejoin="round" style="font-family:&quot;Liberation Sans&quot;;font-size:25.46px;font-weight:normal;font-style:italic">de</text>
<text transform="translate(696.21 145.20) scale(1.0398 1)" fill="#ffffff" stroke="#ffffff" stroke-width="0.6" stroke-linejoin="round" style="font-family:&quot;Liberation Sans&quot;;font-size:25.46px;font-weight:normal;font-style:italic">2021</text>
<text transform="translate(764.04 145.20) scale(1.1401 1)" fill="#ffffff" stroke="#ffffff" stroke-width="0.6" stroke-linejoin="round" style="font-family:&quot;Liberation Sans&quot;;font-size:25.46px;font-weight:normal;font-style:italic">(20:30)</text>
<text transform="translate(1050.15 41.50) scale(0.9186 1)" fill="#5a5a5a" style="font-family:&quot;Liberation Sans&quot;;font-size:7.68px;font-weight:normal;font-style:normal">ESTADO PLURINACIONAL DE</text>
<text transform="translate(1050.34 62.70) scale(0.8113 1)" fill="#4a4a4a" style="font-family:&quot;Liberation Serif&quot;;font-size:28.65px;font-weight:bold;font-style:normal">BOLIVIA</text>
<text transform="translate(1170.05 52.00) scale(0.8900 1)" fill="#5a5a5a" style="font-family:&quot;Liberation Sans&quot;;font-size:10.81px;font-weight:normal;font-style:normal">MINISTERIO DE</text>
<text transform="translate(1170.50 62.70) scale(0.8861 1)" fill="#5a5a5a" style="font-family:&quot;Liberation Sans&quot;;font-size:10.67px;font-weight:normal;font-style:normal">SALUD Y DEPORTES</text>
<text transform="translate(135.44 217.20) scale(1.1853 1)" fill="#ffffff" stroke="#ffffff" stroke-width="0.8" stroke-linejoin="round" style="font-family:&quot;Liberation Sans&quot;;font-size:27.59px;font-weight:normal;font-style:normal">PANDO</text>
<text transform="translate(154.22 248.25) scale(1.1459 1)" fill="#19291d" stroke="#19291d" stroke-width="1.1" stroke-linejoin="round" style="font-family:&quot;Liberation Sans&quot;;font-size:26.17px;font-weight:bold;font-style:italic">2.338</text>
<text transform="translate(169.75 282.35) scale(1.1160 1)" fill="#19291d" stroke="#19291d" stroke-width="1.1" stroke-linejoin="round" style="font-family:&quot;Liberation Sans&quot;;font-size:25.60px;font-weight:bold;font-style:italic">532</text>
<text transform="translate(50.99 321.20) scale(1.1176 1)" fill="#ffffff" stroke="#ffffff" stroke-width="0.8" stroke-linejoin="round" style="font-family:&quot;Liberation Sans&quot;;font-size:25.32px;font-weight:normal;font-style:normal">LA PAZ</text>
<text transform="translate(52.65 353.25) scale(1.1196 1)" fill="#19291d" stroke="#19291d" stroke-width="1.1" stroke-linejoin="round" style="font-family:&quot;Liberation Sans&quot;;font-size:26.17px;font-weight:bold;font-style:italic">35.628</text>
<text transform="translate(63.15 389.05) scale(1.1186 1)" fill="#19291d" stroke="#19291d" stroke-width="1.1" stroke-linejoin="round" style="font-family:&quot;Liberation Sans&quot;;font-size:26.31px;font-weight:bold;font-style:italic">3.425</text>
<text transform="translate(22.54 448.80) scale(1.1853 1)" fill="#ffffff" stroke="#ffffff" stroke-width="0.8" stroke-linejoin="round" style="font-family:&quot;Liberation Sans&quot;;font-size:22.76px;font-weight:normal;font-style:normal">COCHABAMBA</text>
<text transform="translate(77.18 482.15) scale(1.0874 1)" fill="#19291d" stroke="#19291d" stroke-width="1.1" stroke-linejoin="round" style="font-family:&quot;Liberation Sans&quot;;font-size:25.32px;font-weight:bold;font-style:italic">27.018</text>
<text transform="translate(86.61 518.25) scale(1.0763 1)" fill="#19291d" stroke="#19291d" stroke-width="1.1" stroke-linejoin="round" style="font-family:&quot;Liberation Sans&quot;;font-size:26.03px;font-weight:bold;font-style:italic">1.664</text>
<text transform="translate(98.87 587.40) scale(1.0939 1)" fill="#ffffff" stroke="#ffffff" stroke-width="0.8" stroke-linejoin="round" style="font-family:&quot;Liberation Sans&quot;;font-size:26.03px;font-weight:normal;font-style:normal">ORURO</text>
<text transform="translate(114.50 620.25) scale(1.1264 1)" fill="#19291d" stroke="#19291d" stroke-width="1.1" stroke-linejoin="round" style="font-family:&quot;Liberation Sans&quot;;font-size:26.31px;font-weight:bold;font-style:italic">7.668</text>
<text transform="translate(117.25 652.75) scale(1.1266 1)" fill="#19291d" stroke="#19291d" stroke-width="1.1" stroke-linejoin="round" style="font-family:&quot;Liberation Sans&quot;;font-size:26.17px;font-weight:bold;font-style:italic">3.574</text>
<text transform="translate(152.34 712.60) scale(1.0498 1)" fill="#ffffff" stroke="#ffffff" stroke-width="0.8" stroke-linejoin="round" style="font-family:&quot;Liberation Sans&quot;;font-size:25.17px;font-weight:normal;font-style:normal">POTOSÍ</text>
<text transform="translate(167.15 743.75) scale(1.1203 1)" fill="#19291d" stroke="#19291d" stroke-width="1.1" stroke-linejoin="round" style="font-family:&quot;Liberation Sans&quot;;font-size:25.74px;font-weight:bold;font-style:italic">7.572</text>
<text transform="translate(183.55 777.35) scale(1.0637 1)" fill="#19291d" stroke="#19291d" stroke-width="1.1" stroke-linejoin="round" style="font-family:&quot;Liberation Sans&quot;;font-size:25.32px;font-weight:bold;font-style:italic">819</text>
<text transform="translate(608.30 225.40) scale(1.1464 1)" fill="#ffffff" stroke="#ffffff" stroke-width="0.8" stroke-linejoin="round" style="font-family:&quot;Liberation Sans&quot;;font-size:27.88px;font-weight:normal;font-style:normal">BENI</text>
<text transform="translate(609.30 260.45) scale(1.1521 1)" fill="#19291d" stroke="#19291d" stroke-width="1.1" stroke-linejoin="round" style="font-family:&quot;Liberation Sans&quot;;font-size:26.31px;font-weight:bold;font-style:italic">6.698</text>
<text transform="translate(622.99 295.15) scale(1.2007 1)" fill="#19291d" stroke="#19291d" stroke-width="1.1" stroke-linejoin="round" style="font-family:&quot;Liberation Sans&quot;;font-size:25.60px;font-weight:bold;font-style:italic">645</text>
<text transform="translate(681.45 366.70) scale(1.1081 1)" fill="#ffffff" stroke="#ffffff" stroke-width="0.8" stroke-linejoin="round" style="font-family:&quot;Liberation Sans&quot;;font-size:27.45px;font-weight:normal;font-style:normal">SANTA CRUZ</text>
<text transform="translate(736.95 403.65) scale(1.0499 1)" fill="#19291d" stroke="#19291d" stroke-width="1.1" stroke-linejoin="round" style="font-family:&quot;Liberation Sans&quot;;font-size:26.88px;font-weight:bold;font-style:italic">38.316</text>
<text transform="translate(743.85 440.05) scale(1.1748 1)" fill="#19291d" stroke="#19291d" stroke-width="1.1" stroke-linejoin="round" style="font-family:&quot;Liberation Sans&quot;;font-size:24.89px;font-weight:bold;font-style:italic">5.763</text>
<text transform="translate(671.44 659.80) scale(1.0995 1)" fill="#ffffff" stroke="#ffffff" stroke-width="0.8" stroke-linejoin="round" style="font-family:&quot;Liberation Sans&quot;;font-size:26.45px;font-weight:normal;font-style:normal">CHUQUISACA</text>
<text transform="translate(730.63 694.95) scale(1.0599 1)" fill="#19291d" stroke="#19291d" stroke-width="1.1" stroke-linejoin="round" style="font-family:&quot;Liberation Sans&quot;;font-size:25.32px;font-weight:bold;font-style:italic">12.350</text>
<text transform="translate(744.73 727.95) scale(1.0830 1)" fill="#19291d" stroke="#19291d" stroke-width="1.1" stroke-linejoin="round" style="font-family:&quot;Liberation Sans&quot;;font-size:24.75px;font-weight:bold;font-style:italic">1.973</text>
<text transform="translate(434.61 743.40) scale(1.1243 1)" fill="#ffffff" stroke="#ffffff" stroke-width="0.8" stroke-linejoin="round" style="font-family:&quot;Liberation Sans&quot;;font-size:27.88px;font-weight:normal;font-style:normal">TARIJA</text>
<text transform="translate(448.94 775.85) scale(1.0611 1)" fill="#19291d" stroke="#19291d" stroke-width="1.1" stroke-linejoin="round" style="font-family:&quot;Liberation Sans&quot;;font-size:24.60px;font-weight:bold;font-style:italic">11.387</text>
<text transform="translate(459.66 810.35) scale(0.9822 1)" fill="#19291d" stroke="#19291d" stroke-width="1.1" stroke-linejoin="round" style="font-family:&quot;Liberation Sans&quot;;font-size:25.17px;font-weight:bold;font-style:italic">1.107</text>
<text transform="translate(963.50 243.30) scale(1.0086 1)" fill="#0b0b0b" style="font-family:&quot;Liberation Sans&quot;;font-size:32.85px;font-weight:bold;font-style:normal">Total Vacunados</text>
<text transform="translate(1021.74 280.50) scale(1.0009 1)" fill="#0b0b0b" style="font-family:&quot;Liberation Sans&quot;;font-size:32.85px;font-weight:bold;font-style:normal">1ra dosis</text>
<text transform="translate(1004.90 355.30) scale(1.2088 1)" fill="#231f20" stroke="#231f20" stroke-width="2.4" stroke-linejoin="round" style="font-family:&quot;Liberation Sans&quot;;font-size:51.77px;font-weight:bold;font-style:normal">4</text>
<text transform="translate(1045.56 355.30) scale(1.2015 1)" fill="#231f20" stroke="#231f20" stroke-width="2.4" stroke-linejoin="round" style="font-family:&quot;Liberation Sans&quot;;font-size:51.77px;font-weight:bold;font-style:normal">8</text>
<text transform="translate(1101.39 355.30) scale(1.2401 1)" fill="#231f20" stroke="#231f20" stroke-width="2.4" stroke-linejoin="round" style="font-family:&quot;Liberation Sans&quot;;font-size:51.77px;font-weight:bold;font-style:normal">9</text>
<text transform="translate(1141.19 355.30) scale(1.1206 1)" fill="#231f20" stroke="#231f20" stroke-width="2.4" stroke-linejoin="round" style="font-family:&quot;Liberation Sans&quot;;font-size:51.77px;font-weight:bold;font-style:normal">7</text>
<text transform="translate(1176.62 355.30) scale(1.0902 1)" fill="#231f20" stroke="#231f20" stroke-width="2.4" stroke-linejoin="round" style="font-family:&quot;Liberation Sans&quot;;font-size:51.77px;font-weight:bold;font-style:normal">5</text>
<text transform="translate(964.30 455.00) scale(0.9627 1)" fill="#0b0b0b" style="font-family:&quot;Liberation Sans&quot;;font-size:34.42px;font-weight:bold;font-style:normal">Total Vacunados</text>
<text transform="translate(1018.27 492.10) scale(1.0021 1)" fill="#0b0b0b" style="font-family:&quot;Liberation Sans&quot;;font-size:32.85px;font-weight:bold;font-style:normal">2da dosis</text>
<text transform="translate(1047.00 566.00) scale(1.1649 1)" fill="#231f20" stroke="#231f20" stroke-width="2.4" stroke-linejoin="round" style="font-family:&quot;Liberation Sans&quot;;font-size:52.20px;font-weight:bold;font-style:normal">9</text>
<text transform="translate(1101.33 566.00) scale(1.0701 1)" fill="#231f20" stroke="#231f20" stroke-width="2.4" stroke-linejoin="round" style="font-family:&quot;Liberation Sans&quot;;font-size:52.20px;font-weight:bold;font-style:normal">5</text>
<text transform="translate(1136.34 566.00) scale(1.2657 1)" fill="#231f20" stroke="#231f20" stroke-width="2.4" stroke-linejoin="round" style="font-family:&quot;Liberation Sans&quot;;font-size:52.20px;font-weight:bold;font-style:normal">0</text>
<text transform="translate(1175.05 566.00) scale(1.1342 1)" fill="#231f20" stroke="#231f20" stroke-width="2.4" stroke-linejoin="round" style="font-family:&quot;Liberation Sans&quot;;font-size:52.20px;font-weight:bold;font-style:normal">2</text>
<text transform="translate(951.12 655.95) scale(1.1233 1)" fill="#0c519b" stroke="#0c519b" stroke-width="0.7" stroke-linejoin="round" style="font-family:&quot;Liberation Sans&quot;;font-size:23.61px;font-weight:bold;font-style:italic">* Dosis Sputnik-V</text>
<text transform="translate(953.16 687.05) scale(1.0923 1)" fill="#0c519b" stroke="#0c519b" stroke-width="0.7" stroke-linejoin="round" style="font-family:&quot;Liberation Sans&quot;;font-size:23.61px;font-weight:bold;font-style:italic">y Sinopharm para</text>
<text transform="translate(952.76 718.25) scale(1.0931 1)" fill="#0c519b" stroke="#0c519b" stroke-width="0.7" stroke-linejoin="round" style="font-family:&quot;Liberation Sans&quot;;font-size:23.61px;font-weight:bold;font-style:italic">personal de salud</text>
<text transform="translate(953.15 749.45) scale(1.0822 1)" fill="#0c519b" stroke="#0c519b" stroke-width="0.7" stroke-linejoin="round" style="font-family:&quot;Liberation Sans&quot;;font-size:23.61px;font-weight:bold;font-style:italic">y personas con</text>
<text transform="translate(951.54 780.85) scale(1.1092 1)" fill="#0c519b" stroke="#0c519b" stroke-width="0.7" stroke-linejoin="round" style="font-family:&quot;Liberation Sans&quot;;font-size:23.61px;font-weight:bold;font-style:italic">enfermedades de base</text>
<rect x="624.5" y="92.8" width="12.1" height="5.6" fill="#ffffff"/>
<path d="M985.4,317.7 H997.6 V356.5 H985.4 Z M979.3,317.7 H986.4 V327.2 H979.3 Z" fill="#231f20"/>
<circle cx="1091.5" cy="349.9" r="6.6" fill="#231f20"/>
<path d="M1029.0,528.1 H1041.2 V567.2 H1029.0 Z M1022.3,528.1 H1030.0 V537.6 H1022.3 Z" fill="#231f20"/>
<circle cx="1090.6" cy="561.2" r="6.0" fill="#231f20"/>
</svg></body></html>
